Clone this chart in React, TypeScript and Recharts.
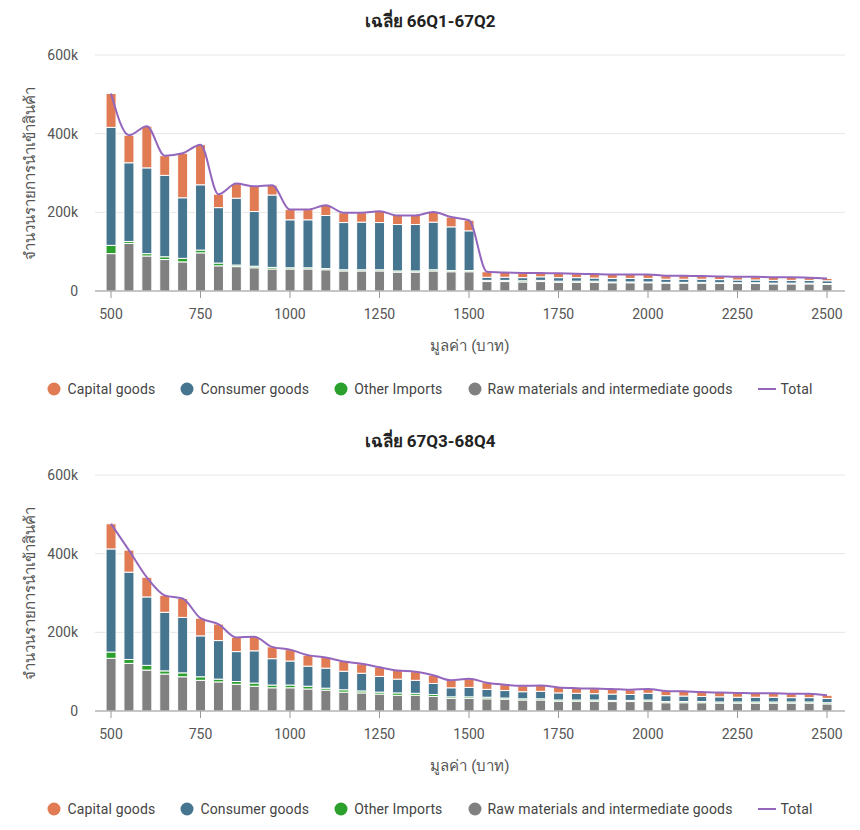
import React from "react";
import { ComposedChart, Bar, Line, XAxis, YAxis, CartesianGrid, Label } from "recharts";

// Price bands (บาท)
const CATEGORIES = [
  500, 550, 600, 650, 700, 750, 800, 850, 900, 950, 1000, 1050, 1100, 1150, 1200, 1250, 1300, 1350, 1400, 1450,
  1500, 1550, 1600, 1650, 1700, 1750, 1800, 1850, 1900, 1950, 2000, 2050, 2100, 2150, 2200, 2250, 2300, 2350,
  2400, 2450, 2500,
];

// Values in thousands of import entries — period 66Q1-67Q2
const RAW_A = [95, 121, 89, 80, 74, 97, 64, 62, 59, 56, 56, 56, 54, 51, 51, 51, 48, 48, 51, 49, 49, 24, 24, 23, 24, 22, 22, 22, 21, 21, 21, 20, 20, 20, 19, 19, 19, 18, 18, 18, 17];
const OTHER_A = [21, 5, 6, 7, 9, 7, 7, 4, 4, 4, 3, 3, 3, 3, 3, 3, 3, 3, 3, 3, 3, 3, 3, 3, 3, 3, 3, 3, 2, 2, 2, 2, 2, 2, 2, 2, 2, 2, 2, 2, 2];
const CONSUMER_A = [300, 200, 218, 207, 154, 166, 141, 170, 139, 184, 122, 122, 135, 120, 121, 120, 118, 118, 121, 111, 101, 8, 8, 8, 9, 9, 9, 8, 9, 9, 9, 8, 8, 8, 8, 7, 7, 7, 7, 7, 7];
const CAPITAL_A = [86, 70, 106, 50, 113, 102, 34, 37, 64, 25, 26, 26, 26, 25, 24, 29, 23, 23, 26, 25, 27, 14, 12, 12, 10, 11, 10, 10, 10, 10, 10, 9, 9, 8, 8, 8, 8, 8, 8, 7, 6];
const TOTAL_A = [502, 396, 419, 344, 350, 372, 246, 273, 266, 269, 207, 207, 218, 199, 199, 203, 192, 192, 201, 188, 180, 49, 47, 46, 46, 45, 44, 43, 42, 42, 42, 39, 39, 38, 37, 36, 36, 35, 35, 34, 32];

// Period 67Q3-68Q4
const RAW_B = [134, 121, 104, 94, 87, 78, 74, 68, 63, 59, 59, 56, 53, 48, 46, 43, 40, 40, 37, 32, 32, 31, 30, 28, 28, 25, 25, 25, 24, 24, 25, 21, 21, 21, 20, 20, 20, 20, 20, 20, 18];
const OTHER_B = [16, 10, 12, 8, 10, 9, 7, 7, 8, 7, 7, 7, 5, 6, 5, 5, 6, 5, 5, 4, 4, 4, 3, 3, 3, 3, 3, 3, 3, 3, 3, 3, 3, 3, 3, 3, 3, 3, 3, 3, 3];
const CONSUMER_B = [262, 222, 174, 149, 141, 104, 98, 76, 82, 67, 61, 51, 51, 47, 45, 40, 35, 33, 28, 23, 24, 20, 19, 18, 19, 18, 17, 16, 16, 15, 17, 15, 14, 13, 13, 12, 12, 12, 11, 11, 11];
const CAPITAL_B = [64, 56, 50, 43, 48, 45, 42, 36, 36, 30, 29, 28, 27, 25, 24, 23, 22, 22, 21, 19, 22, 17, 15, 15, 15, 14, 13, 13, 13, 12, 11, 12, 12, 11, 11, 11, 10, 10, 10, 10, 8];
const TOTAL_B = [476, 409, 340, 294, 286, 236, 221, 187, 189, 163, 156, 142, 136, 126, 120, 111, 103, 100, 91, 78, 82, 72, 67, 64, 65, 60, 58, 57, 56, 54, 56, 51, 50, 48, 47, 46, 45, 45, 44, 44, 40];

const X_TICKS = [500, 750, 1000, 1250, 1500, 1750, 2000, 2250, 2500];
const Y_TICKS = [0, 200, 400, 600];

const TITLES = ["เฉลี่ย 66Q1-67Q2", "เฉลี่ย 67Q3-68Q4"];
const X_LABEL = "มูลค่า (บาท)";
const Y_LABEL = "จำนวนรายการนำเข้าสินค้า";

const C_CAPITAL = "#E07B53";
const C_CONSUMER = "#45758F";
const C_OTHER = "#2CA02C";
const C_RAW = "#808080";
const C_TOTAL = "#9467BD";

const LEGEND_ITEMS = [
  { name: "Capital goods", color: C_CAPITAL, type: "circle" },
  { name: "Consumer goods", color: C_CONSUMER, type: "circle" },
  { name: "Other Imports", color: C_OTHER, type: "circle" },
  { name: "Raw materials and intermediate goods", color: C_RAW, type: "circle" },
  { name: "Total", color: C_TOTAL, type: "line" },
];

const FONT = "Roboto, 'Noto Sans', 'DejaVu Sans', sans-serif";

function buildRows(raw: number[], other: number[], consumer: number[], capital: number[], total: number[]) {
  return CATEGORIES.map((x, i) => ({
    x,
    raw: raw[i],
    other: other[i],
    consumer: consumer[i],
    capital: capital[i],
    total: total[i],
  }));
}

const DATA_A = buildRows(RAW_A, OTHER_A, CONSUMER_A, CAPITAL_A, TOTAL_A);
const DATA_B = buildRows(RAW_B, OTHER_B, CONSUMER_B, CAPITAL_B, TOTAL_B);

function LegendRow() {
  return (
    <div
      style={{
        position: "absolute",
        top: 379,
        left: 0,
        width: 860,
        display: "flex",
        justifyContent: "center",
        alignItems: "center",
        fontFamily: FONT,
        fontSize: 14,
        color: "#444",
        letterSpacing: 0.15,
      }}
    >
      {LEGEND_ITEMS.map((it, i) => (
        <div key={it.name} style={{ display: "flex", alignItems: "center", marginLeft: i === 0 ? 0 : 25 }}>
          {it.type === "circle" ? (
            <svg width={14} height={14} style={{ marginRight: 6 }}>
              <circle cx={7} cy={7} r={6.5} fill={it.color} />
            </svg>
          ) : (
            <svg width={18} height={14} style={{ marginRight: 5 }}>
              <line x1={0} y1={7} x2={18} y2={7} stroke={it.color} strokeWidth={2} />
            </svg>
          )}
          <span style={{ lineHeight: "20px" }}>{it.name}</span>
        </div>
      ))}
    </div>
  );
}

function Panel({ title, data, top }: { title: string; data: any[]; top: number }) {
  return (
    <div style={{ position: "absolute", top, left: 0, width: 860, height: 420 }}>
      <div
        style={{
          position: "absolute",
          top: 7,
          left: 0,
          width: 860,
          textAlign: "center",
          fontFamily: FONT,
          fontWeight: 700,
          fontSize: 17,
          color: "#222",
        }}
      >
        {title}
      </div>
      <ComposedChart
        width={860}
        height={360}
        data={data}
        margin={{ top: 55, right: 15, bottom: 0, left: 0 }}
        style={{ fontFamily: FONT }}
      >
        <CartesianGrid vertical={false} stroke="#e6e6e6" />
        <XAxis
          dataKey="x"
          type="number"
          domain={[500, 2500]}
          ticks={X_TICKS}
          padding={{ left: 16, right: 18 }}
          height={69}
          tickSize={7}
          tickMargin={11}
          stroke="#999"
          tick={{ fill: "#555", fontSize: 14 }}
        >
          <Label value={X_LABEL} position="insideBottom" offset={9} style={{ fill: "#555", fontSize: 15 }} />
        </XAxis>
        <YAxis
          type="number"
          domain={[0, 600]}
          ticks={Y_TICKS}
          width={95}
          tickLine={false}
          axisLine={false}
          tickSize={0}
          tickMargin={17}
          tick={{ fill: "#555", fontSize: 14 }}
          tickFormatter={(v: number) => (v === 0 ? "0" : `${v}k`)}
        >
          <Label
            value={Y_LABEL}
            angle={-90}
            position="insideLeft"
            offset={30}
            style={{ textAnchor: "middle", fill: "#555", fontSize: 15 }}
          />
        </YAxis>
        <Bar dataKey="raw" stackId="s" fill={C_RAW} stroke="#fff" strokeWidth={1} barSize={10} isAnimationActive={false} />
        <Bar dataKey="other" stackId="s" fill={C_OTHER} stroke="#fff" strokeWidth={1} barSize={10} isAnimationActive={false} />
        <Bar dataKey="consumer" stackId="s" fill={C_CONSUMER} stroke="#fff" strokeWidth={1} barSize={10} isAnimationActive={false} />
        <Bar dataKey="capital" stackId="s" fill={C_CAPITAL} stroke="#fff" strokeWidth={1} barSize={10} isAnimationActive={false} />
        <Line
          dataKey="total"
          type="monotone"
          stroke={C_TOTAL}
          strokeWidth={2}
          dot={false}
          activeDot={false}
          isAnimationActive={false}
        />
      </ComposedChart>
      <LegendRow />
    </div>
  );
}

export default function App() {
  return (
    <div style={{ position: "absolute", top: 0, left: 0, width: 860, height: 830, overflow: "hidden", background: "#fff" }}>
      <Panel title={TITLES[0]} data={DATA_A} top={0} />
      <Panel title={TITLES[1]} data={DATA_B} top={420} />
    </div>
  );
}
